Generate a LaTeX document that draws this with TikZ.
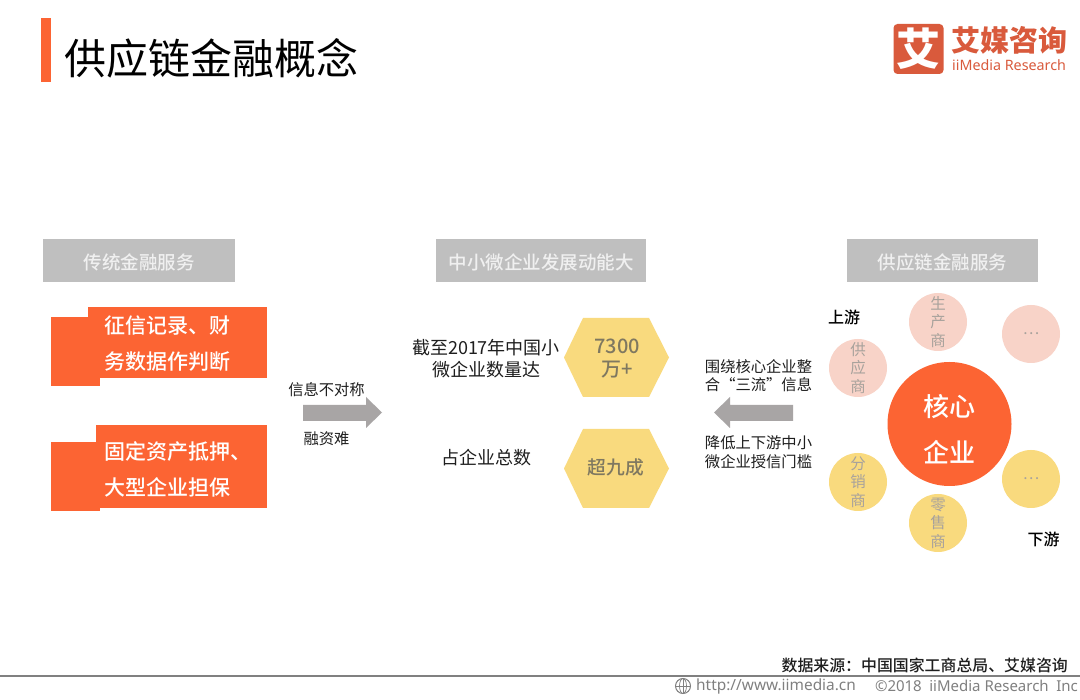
\documentclass[tikz,border=0pt]{standalone}
\usepackage{fontspec}
\setmainfont{Noto Sans CJK SC}
\newfontfamily\latinf{Noto Sans}
\newfontfamily\cjkmed{Noto Sans CJK SC Medium}
\usetikzlibrary{calc}
\definecolor{brandorange}{HTML}{FC6433}
\definecolor{logored}{HTML}{D95A3C}
\definecolor{headgray}{HTML}{BFBFBF}
\definecolor{headtext}{HTML}{F0F0F0}
\definecolor{arrowgray}{HTML}{A8A5A5}
\definecolor{softpink}{HTML}{F8D3C8}
\definecolor{softyellow}{HTML}{F9DA7E}
\definecolor{circletext}{HTML}{A8A29C}
\definecolor{hextext}{HTML}{7F7860}
\definecolor{inktext}{HTML}{1E1E1E}
\definecolor{footgray}{HTML}{808080}
\newcommand{\fsz}[2]{\fontsize{#1}{#2}\selectfont}
\tikzset{
  headbox/.style={fill=headgray,text=headtext,inner sep=0pt,font=\cjkmed\fsz{18.5}{22},minimum height=43pt,text height=20pt,text depth=2pt},
  bluntbox/.style={fill=brandorange,draw=none},
  boxtext/.style={text=white,anchor=west,inner sep=0pt,font=\cjkmed\fsz{21}{36},align=left},
  inkone/.style={text=inktext,inner sep=0pt,font=\fsz{15.3}{18.5},align=center},
  inktwo/.style={text=inktext,inner sep=0pt,font=\fsz{18}{22},align=center},
  hextxt/.style={text=hextext,inner sep=0pt,align=center},
  hexfill/.style={fill=softyellow,draw=none},
  blockarrow/.style={fill=arrowgray,draw=none},
  satellite/.style={circle,minimum size=58pt,inner sep=0pt,text=circletext,font=\fsz{15.5}{18.5},align=center},
  pinkdot/.style={satellite,fill=softpink},
  yellowdot/.style={satellite,fill=softyellow},
  tiertext/.style={text=black,inner sep=0pt,font=\cjkmed\fsz{16}{18}},
}
\begin{document}
\begin{tikzpicture}[x=1pt,y=-1pt]
\useasboundingbox (0,0) rectangle (1080,700);
\fill[white] (0,0) rectangle (1080,700);
% title
\fill[brandorange] (40.5,18.5) rectangle (51,82);
\node[text=black,anchor=west,inner sep=0pt,font=\fsz{42}{48}] (title) at (64.5,58) {供应链金融概念};
% logo
\node[fill=logored,rounded corners=4pt,minimum width=50pt,minimum height=50pt,inner sep=0pt,text=white,font=\fsz{44}{48}\bfseries] (logomark) at (918.5,49) {艾};
\node[text=logored,anchor=west,inner sep=0pt,font=\fsz{29}{32}\bfseries] (logocn) at (951,40.5) {艾媒咨询};
\node[text=logored,anchor=west,inner sep=0pt,font=\latinf\fsz{14.3}{17}] (logoen) at (952,65) {iiMedia Research};
% headers
\node[headbox,minimum width=192pt] (h1) at (139,260.5) {传统金融服务};
\node[headbox,minimum width=210pt] (h2) at (541,260.5) {中小微企业发展动能大};
\node[headbox,minimum width=191pt] (h3) at (942.5,260.5) {供应链金融服务};
% left boxes
\fill[bluntbox] (51,317) rectangle (100,386);
\fill[bluntbox] (88,307) rectangle (267,378);
\node[boxtext] (b1) at (104,343.5) {征信记录、财\\务数据作判断};
\fill[bluntbox] (51,442) rectangle (100,511);
\fill[bluntbox] (96,425) rectangle (267,508);
\node[boxtext] (b2) at (104,469) {固定资产抵押、\\大型企业担保};
% right arrow
\fill[blockarrow] (303,405) -- (366,405) -- (366,397) -- (382,412.5) -- (366,428) -- (366,421) -- (303,421) -- cycle;
\node[inkone] (a1) at (326.5,389.5) {信息不对称};
\node[inkone] (a2) at (326.5,438.5) {融资难};
% middle
\node[inktwo] (m1) at (486,359) {截至2017年中国小\\微企业数量达};
\node[inktwo] (m2) at (486.5,458) {占企业总数};
\fill[hexfill] (583,318) -- (649,318) -- (669,357.5) -- (649,397) -- (583,397) -- (564,357.5) -- cycle;
\node[hextxt,font=\cjkmed\fsz{20}{22.5}] (hx1) at (617,358.5) {7300\\万+};
\fill[hexfill] (583,429) -- (649,429) -- (669,468.5) -- (649,508) -- (583,508) -- (564,468.5) -- cycle;
\node[hextxt,font=\cjkmed\fsz{18.7}{22}] (hx2) at (616,467.5) {超九成};
% left arrow
\fill[blockarrow] (793,405) -- (730,405) -- (730,397) -- (714,412.5) -- (730,428) -- (730,421) -- (793,421) -- cycle;
\node[inkone] (c1) at (758.5,375.5) {围绕核心企业整\\合“三流”信息};
\node[inkone] (c2) at (758.5,452) {降低上下游中小\\微企业授信门槛};
% circles
\node[circle,fill=brandorange,minimum size=124pt,inner sep=0pt] (core) at (949.5,424) {};
\node[text=white,inner sep=0pt,font=\cjkmed\fsz{26}{46},align=center] (coretext) at (949.5,429.5) {核心\\企业};
\node[pinkdot] (s1) at (938,322) {生\\产\\商};
\node[pinkdot] (s2) at (1031,334) {…};
\node[pinkdot] (s3) at (858,368) {供\\应\\商};
\node[yellowdot] (s4) at (858,482) {分\\销\\商};
\node[yellowdot] (s5) at (938,523) {零\\售\\商};
\node[yellowdot] (s6) at (1031,479) {…};
\node[tiertext] (up) at (844,317) {上游};
\node[tiertext] (down) at (1043.5,539) {下游};
% footer
\node[anchor=east,text=inktext,inner sep=0pt,font=\cjkmed\fsz{15.9}{18}] (src) at (1068,665) {数据来源：中国国家工商总局、艾媒咨询};
\draw[footgray,line width=1.2pt] (0,676) -- (1080,676);
\draw[footgray,line width=1pt] (683,686) circle (7.5);
\draw[footgray,line width=.7pt] (675.5,686) -- (690.5,686) (683,678.5) -- (683,693.5);
\draw[footgray,line width=.7pt] (683,686) ellipse (3.5 and 7.5);
\node[anchor=west,text=footgray,inner sep=0pt,font=\latinf\fsz{15.4}{17}] (url) at (696,686) {http://www.iimedia.cn};
\node[anchor=east,text=footgray,inner sep=0pt,font=\latinf\fsz{15}{17}] (copy) at (1078,686) {©2018\hspace{7.5pt}iiMedia Research\hspace{7.5pt}Inc};
\end{tikzpicture}
\end{document}
